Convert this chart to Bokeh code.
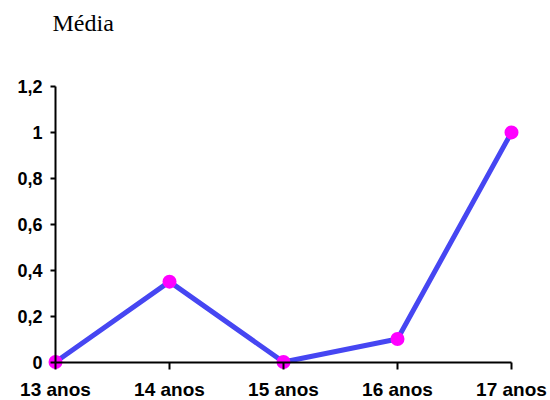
from bokeh.plotting import figure
from bokeh.models import Range1d, FixedTicker, ColumnDataSource
from bokeh.embed import file_html
from bokeh.resources import INLINE

categories = ["13 anos", "14 anos", "15 anos", "16 anos", "17 anos"]
media = [0, 0.35, 0, 0.1, 1.0]
y_ticks = [0, 0.2, 0.4, 0.6, 0.8, 1, 1.2]
y_tick_labels = ["0", "0,2", "0,4", "0,6", "0,8", "1", "1,2"]

xs = list(range(len(categories)))
src = ColumnDataSource(dict(x=xs, y=media))

W, H = 550, 400
TOP = 40
px_x = 114.0
px_y = 229.6
x0_px = 55.0
y0_px = 361.5

p = figure(width=W, height=H, output_backend="svg", toolbar_location=None,
           title="Média",
           x_range=Range1d(-x0_px / px_x, (W - x0_px) / px_x),
           y_range=Range1d(-(H - y0_px) / px_y, (y0_px - TOP) / px_y),
           min_border_left=0, min_border_right=0, min_border_bottom=0,
           min_border_top=TOP)

p.title.text_font = "Liberation Serif"
p.title.text_font_size = "24px"
p.title.text_font_style = "normal"
p.title.text_color = "#000000"
p.title.align = "left"
p.title.offset = 52

p.outline_line_color = None
p.grid.visible = False

p.line("x", "y", source=src, line_color="#4646f2", line_width=5)
p.scatter("x", "y", source=src, size=14, fill_color="#ff00ff", line_color=None)

for ax in (p.xaxis[0], p.yaxis[0]):
    ax.fixed_location = 0
    ax.axis_line_width = 2
    ax.axis_line_color = "black"
    ax.major_tick_line_width = 2
    ax.major_tick_line_color = "black"
    ax.minor_tick_line_color = None
    ax.major_tick_in = 0
    ax.major_label_text_font = "Liberation Sans"
    ax.major_label_text_font_style = "bold"
    ax.major_label_text_color = "black"

xa = p.xaxis[0]
xa.bounds = (0, len(categories) - 1)
xa.ticker = FixedTicker(ticks=xs)
xa.major_label_overrides = {i: c for i, c in zip(xs, categories)}
xa.major_tick_out = 7
xa.major_label_standoff = 10
xa.major_label_text_font_size = "19px"

ya = p.yaxis[0]
ya.bounds = (0, 1.2)
ya.ticker = FixedTicker(ticks=y_ticks)
ya.major_label_overrides = {t: l for t, l in zip(y_ticks, y_tick_labels)}
ya.major_tick_out = 5
ya.major_label_standoff = 8
ya.major_label_text_font_size = "18px"

open("out.html", "w").write(file_html(p, INLINE))
